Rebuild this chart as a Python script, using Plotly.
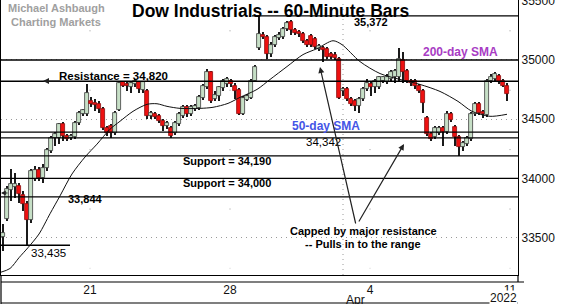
import plotly.graph_objects as go

# ---------------- data (hourly bars, index 1..127) ----------------
bar_index = list(range(1, 128))
opens = [33508, 33659, 33902, 33928, 33936, 33860, 33785, 33650, 33995, 34070,
         34003, 34087, 34230, 34339, 34339, 34457, 34356, 34339, 34348, 34465,
         34541, 34541, 34650, 34633, 34625, 34583, 34423, 34440, 34381, 34574,
         34810, 34793, 34768, 34793, 34810, 34742, 34734, 34524, 34541, 34524,
         34482, 34440, 34423, 34381, 34457, 34524, 34600, 34541, 34583, 34591,
         34675, 34768, 34894, 34667, 34692, 34759, 34793, 34818, 34784, 34742,
         34541, 34658, 34675, 34826, 35104, 35213, 35196, 35053, 35129, 35188,
         35196, 35263, 35322, 35255, 35238, 35221, 35162, 35204, 35179, 35095,
         35104, 35095, 35053, 35045, 35011, 34734, 34751, 34667, 34650, 34608,
         34667, 34751, 34793, 34768, 34768, 34818, 34810, 34843, 34860, 34860,
         35003, 34910, 34826, 34826, 34776, 34734, 34507, 34373, 34348, 34381,
         34423, 34390, 34541, 34432, 34348, 34264, 34289, 34331, 34541, 34625,
         34558, 34532, 34818, 34843, 34868, 34818, 34784]
closes = [33541, 33911, 33953, 33953, 33869, 33785, 33650, 34062, 34070, 34003,
          34087, 34238, 34339, 34373, 34457, 34356, 34331, 34356, 34465, 34549,
          34574, 34717, 34625, 34616, 34583, 34423, 34381, 34381, 34549, 34801,
          34784, 34776, 34801, 34818, 34751, 34810, 34524, 34549, 34516, 34482,
          34440, 34465, 34356, 34465, 34541, 34600, 34541, 34600, 34608, 34684,
          34776, 34894, 34650, 34700, 34768, 34818, 34843, 34793, 34734, 34541,
          34675, 34692, 34826, 34944, 35221, 35196, 35053, 35129, 35196, 35213,
          35263, 35314, 35255, 35230, 35221, 35162, 35129, 35129, 35112, 35120,
          35087, 35028, 35028, 35020, 34675, 34751, 34667, 34625, 34608, 34667,
          34751, 34801, 34768, 34818, 34852, 34852, 34860, 34902, 34910, 35011,
          34902, 34818, 34801, 34776, 34734, 34633, 34373, 34331, 34423, 34423,
          34390, 34541, 34490, 34348, 34264, 34297, 34339, 34541, 34625, 34549,
          34541, 34818, 34860, 34877, 34810, 34784, 34709]
highs = [33617, 33936, 34079, 34045, 33961, 33894, 33810, 34079, 34104, 34096,
         34121, 34255, 34356, 34390, 34465, 34474, 34373, 34373, 34482, 34566,
         34583, 34793, 34684, 34667, 34650, 34600, 34440, 34457, 34566, 34818,
         34826, 34818, 34818, 34835, 34826, 34826, 34751, 34566, 34558, 34541,
         34499, 34482, 34440, 34482, 34558, 34616, 34616, 34616, 34625, 34700,
         34793, 34927, 34910, 34734, 34784, 34835, 34860, 34843, 34801, 34759,
         34692, 34709, 34843, 34961, 35372, 35238, 35213, 35154, 35213, 35238,
         35280, 35330, 35339, 35272, 35255, 35238, 35179, 35221, 35196, 35137,
         35120, 35112, 35070, 35070, 35028, 34768, 34768, 34684, 34667, 34684,
         34768, 34835, 34818, 34835, 34868, 34868, 34877, 34919, 34927, 35104,
         35070, 34927, 34843, 34843, 34793, 34751, 34524, 34390, 34440, 34440,
         34440, 34566, 34558, 34448, 34364, 34314, 34356, 34558, 34642, 34642,
         34574, 34835, 34877, 34894, 34885, 34835, 34801]
lows = [33390, 33642, 33810, 33835, 33793, 33726, 33435, 33625, 33978, 33978,
        33961, 34062, 34213, 34272, 34289, 34314, 34314, 34322, 34331, 34448,
        34524, 34524, 34600, 34566, 34549, 34406, 34356, 34339, 34364, 34566,
        34768, 34734, 34717, 34768, 34717, 34717, 34499, 34499, 34499, 34465,
        34398, 34415, 34339, 34364, 34440, 34507, 34516, 34524, 34566, 34574,
        34658, 34751, 34633, 34650, 34650, 34734, 34768, 34768, 34667, 34532,
        34532, 34650, 34667, 34810, 35087, 35179, 35011, 35028, 35112, 35171,
        35179, 35246, 35213, 35213, 35196, 35146, 35112, 35112, 35095, 35078,
        34986, 35011, 35011, 35003, 34667, 34692, 34650, 34608, 34566, 34549,
        34650, 34734, 34692, 34717, 34751, 34801, 34793, 34826, 34801, 34818,
        34801, 34801, 34784, 34751, 34717, 34549, 34356, 34314, 34331, 34364,
        34272, 34373, 34474, 34272, 34188, 34230, 34272, 34314, 34524, 34532,
        34507, 34516, 34801, 34826, 34793, 34768, 34650]

# short-term moving average
sma_x = [0.25, 2.75, 5, 7.25, 10, 12.75, 15.25, 18.25, 21.5, 24.5, 27.75, 30.25,
         33.5, 37, 39.5, 42, 45.25, 50.25, 53.5, 57.25, 60.25, 64.5, 67.75, 72,
         76, 79.5, 83.5, 85.75, 90.25, 95.25, 100.25, 105.25, 110.25, 114.75,
         118.25, 122.75, 127]
sma_y = [33205, 33239, 33330, 33415, 33530, 33701, 33852, 34037, 34180, 34289,
         34415, 34482, 34566, 34625, 34630, 34608, 34591, 34591, 34600, 34633,
         34684, 34751, 34835, 34944, 35045, 35095, 35162, 35129, 34986, 34885,
         34835, 34793, 34734, 34650, 34566, 34524, 34541]

# horizontal levels
level_high = 35372
sma200 = 35000
resistance = 34820
sma50 = 34390
level_34342 = 34342
support_1 = 34190
support_2 = 34000
level_33844 = 33844
level_low = 33435

# axis ticks
x_tickvals = [22.75, 57.75, 92.75, 127.75]
x_ticktext = ["21", "28", "4", "11"]
month_boundary = 86
y_tickvals = [33500, 34000, 34500, 35000, 35500]

# ---------------- geometry ----------------
W, H = 562, 304
ML, MR, MT, MB = 1, 44, 0, 29
PW, PH = W - ML - MR, H - MT - MB
X_RANGE = [0.5, 129.75]
Y_RANGE = [33184, 35506]

def P(px, py):
    return (px - ML) / PW, (PH + MT - py) / PH

FONT = "Liberation Sans, Arial, sans-serif"

up = [c >= o for o, c in zip(opens, closes)]
body_base = [min(o, c) for o, c in zip(opens, closes)]
body_h = [max(abs(c - o), 6) for o, c in zip(opens, closes)]
wick_h = [h - l for h, l in zip(highs, lows)]

fig = go.Figure()
fig.add_trace(go.Bar(x=bar_index, y=wick_h, base=lows, width=0.26,
                     marker=dict(color="#1a1a1a", line=dict(width=0)),
                     hoverinfo="skip", showlegend=False))
fig.add_trace(go.Bar(x=bar_index, y=body_h, base=body_base, width=0.8,
                     marker=dict(color=["#c6dfc6" if u else "#ee1111" for u in up],
                                 line=dict(color=["#3c3c3c" if u else "#8a1010" for u in up],
                                           width=0.8)),
                     hoverinfo="skip", showlegend=False))
fig.add_trace(go.Scatter(x=sma_x, y=sma_y, mode="lines",
                         line=dict(color="#111111", width=1, shape="spline", smoothing=0.8),
                         hoverinfo="skip", showlegend=False))

shapes = []
def hline(y, x0=X_RANGE[0], x1=X_RANGE[1], w=1.4):
    shapes.append(dict(type="line", xref="x", yref="y", x0=x0, x1=x1, y0=y, y1=y,
                       line=dict(color="#000000", width=w)))

for lv in [sma200, resistance, sma50, level_34342, support_1, support_2, level_33844]:
    hline(lv)
hline(level_high, x0=63.25)
hline(level_low, x1=17.75)

# dotted month boundary
shapes.append(dict(type="line", xref="x", yref="paper", x0=month_boundary, x1=month_boundary,
                   y0=0, y1=1, line=dict(color="#9a9a9a", width=1, dash="1px,4px"), layer="below"))
# sparse weekly grid dots
for tv in x_tickvals:
    shapes.append(dict(type="line", xref="x", yref="y", x0=tv, x1=tv, y0=35250, y1=33240,
                       line=dict(color="#9a9a9a", width=1, dash="1px,58.4px"), layer="below"))

# frame pieces below the plot
def seg(x0, y0, x1, y1):
    a = P(x0, y0); b = P(x1, y1)
    shapes.append(dict(type="line", xref="paper", yref="paper", x0=a[0], y0=a[1], x1=b[0], y1=b[1],
                       line=dict(color="#000000", width=1.2)))
seg(1, 275, 1, 304)
seg(518, 275, 518, 282)
seg(1, 282, 524, 282)
seg(1, 303, 518, 303)

ann = []
def text(s, px, py, size=11, color="#000000", bold=True, xanchor="center", bg=None):
    x, y = P(px, py)
    d = dict(text=("<b>%s</b>" % s) if bold else s, x=x, y=y, xref="paper", yref="paper",
             xanchor=xanchor, yanchor="middle", showarrow=False,
             font=dict(family=FONT, size=size, color=color))
    if bg:
        d["bgcolor"] = bg
        d["borderpad"] = 0
    ann.append(d)

text("Michael Ashbaugh", 56, 8, 11, "#a0a0a0")
text("Charting Markets", 56, 22, 11, "#a0a0a0")
text("Dow Industrials -- 60-Minute Bars", 270, 11, 17.5)
text("35,372", 371, 22, 11)
text("Resistance = 34,820", 113, 76, 11.5)
text("200-day SMA", 460, 52, 12, "#a83cc4")
text("50-day SMA", 326, 126, 12, "#4455e6")
text("34,342", 323, 142, 11.5, bold=False)
text("Support = 34,190", 227, 161, 11)
text("Support = 34,000", 227, 183, 11)
text("33,844", 85, 199, 11)
text("33,435", 48, 253, 11.5, bold=False)
text("Capped by major resistance", 363, 231, 11)
text("-- Pulls in to the range", 363, 244, 11)
text("Apr", 344, 300, 12, "#111111", bold=False, xanchor="left")
text("2022", 503, 297.5, 12, "#111111", bold=False, bg="white")

def arrow(hx, hy, tx, ty, head=2, size=1.0):
    x, y = P(hx, hy)
    ann.append(dict(text="", x=x, y=y, xref="paper", yref="paper", ax=tx - hx, ay=ty - hy,
                    showarrow=True, arrowhead=head, arrowsize=size, arrowwidth=1.2,
                    arrowcolor="#222222", standoff=0, startstandoff=0))

arrow(320, 67, 356, 225)
arrow(404, 144, 358, 223)
arrow(43, 81, 62, 81, head=2, size=1.0)
arrow(1, 193, 9, 193, head=2, size=0.8)

fig.update_layout(
    width=W, height=H, margin=dict(l=ML, r=MR, t=MT, b=MB, autoexpand=False),
    paper_bgcolor="white", plot_bgcolor="white",
    barmode="overlay", bargap=0, showlegend=False,
    shapes=shapes, annotations=ann,
    font=dict(family=FONT, size=12, color="#111111"),
    xaxis=dict(range=X_RANGE, tickvals=x_tickvals, ticktext=x_ticktext, automargin=False,
               showgrid=False, zeroline=False, showline=True, linecolor="#000000",
               linewidth=1.2, ticks="", ticklabelstandoff=3,
               tickfont=dict(family=FONT, size=12, color="#111111")),
    yaxis=dict(range=Y_RANGE, side="right", tickvals=y_tickvals, automargin=False,
               tickformat="d", showgrid=True, gridcolor="#9a9a9a", griddash="1px,4px",
               gridwidth=1, zeroline=False, showline=True, mirror=True,
               linecolor="#000000", linewidth=1.2, ticks="", ticklabelstandoff=0,
               ticklabeloverflow="allow",
               tickfont=dict(family=FONT, size=12, color="#111111")),
)

fig.write_html("out.html", config={"displayModeBar": False},
               post_script="document.body.style.margin='0px';document.body.style.overflow='hidden';")
